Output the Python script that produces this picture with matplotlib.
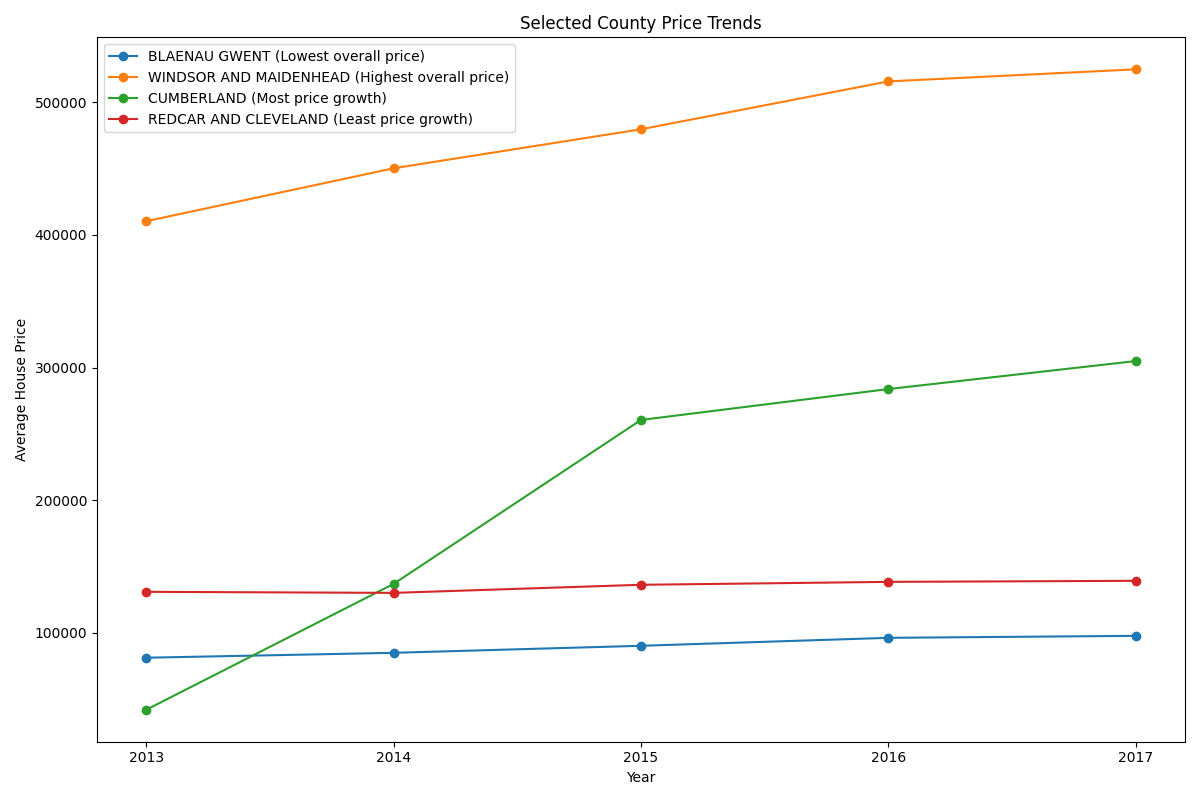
import matplotlib
matplotlib.use("Agg")
import matplotlib.pyplot as plt

years = [2013, 2014, 2015, 2016, 2017]

blaenau_gwent = [81200, 84900, 90200, 96200, 97700]
windsor_maidenhead = [410400, 450300, 479700, 515800, 524900]
cumberland = [42000, 136900, 260500, 283800, 304900]
redcar_cleveland = [130900, 130100, 136200, 138400, 139200]

labels = [
    "BLAENAU GWENT (Lowest overall price)",
    "WINDSOR AND MAIDENHEAD (Highest overall price)",
    "CUMBERLAND (Most price growth)",
    "REDCAR AND CLEVELAND (Least price growth)",
]

plt.figure(figsize=(12, 8))

for series, label in zip([blaenau_gwent, windsor_maidenhead, cumberland, redcar_cleveland], labels):
    plt.plot(years, series, marker='o', label=label)

plt.title("Selected County Price Trends")
plt.xlabel("Year")
plt.ylabel("Average House Price")
plt.xticks(years)
plt.legend(loc="upper left")
plt.tight_layout()
plt.savefig("out.png", dpi=100)
